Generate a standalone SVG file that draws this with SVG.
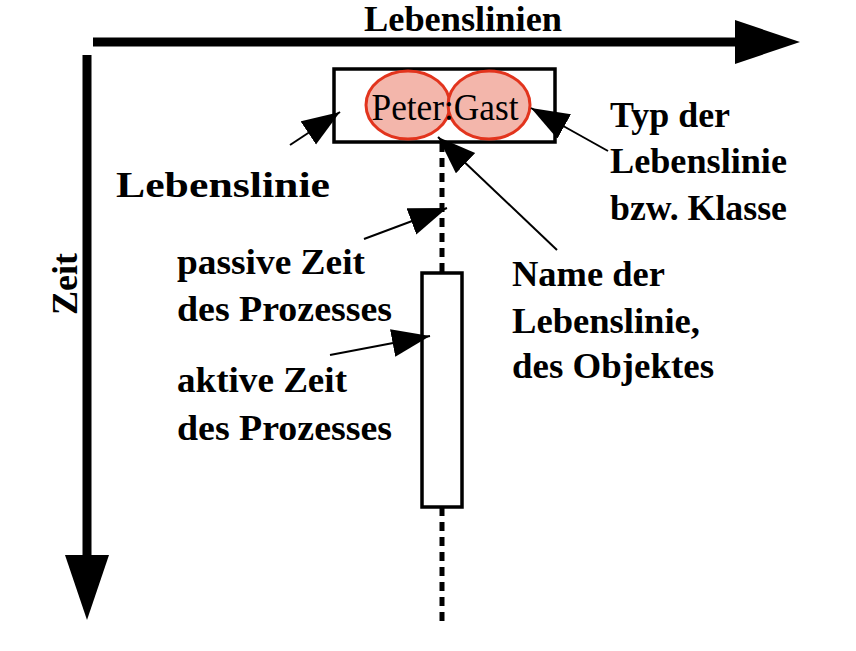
<svg xmlns="http://www.w3.org/2000/svg" width="856" height="651" viewBox="0 0 856 651">
<style>
.lbl{font-family:"Liberation Serif","Times New Roman",serif;font-weight:bold;font-size:35px;fill:#000}
.axis{stroke:#000;stroke-width:9;fill:none}
.ptr{stroke:#000;stroke-width:2;fill:none}
.life{stroke:#000;stroke-width:5;stroke-dasharray:9 6;fill:none}
.box{fill:#fff;stroke:#000;stroke-width:3.5}
.role{fill:#f3b6ab;stroke:#e2341d;stroke-width:3}
</style>
<defs>
<marker id="ah" markerUnits="userSpaceOnUse" markerWidth="40" markerHeight="30" refX="38" refY="14" orient="auto">
<path d="M0,0 L38,14 L0,28 z" fill="#000"/>
</marker>
</defs>
<rect width="856" height="651" fill="#fff"/>
<g id="axes">
<line class="axis" x1="93" y1="42" x2="740" y2="42"/>
<polygon points="735,20 800,42 735,64" fill="#000"/>
<line class="axis" x1="87" y1="55" x2="87" y2="560"/>
<polygon points="65,555 87,620 109,555" fill="#000"/>
<text class="lbl" x="463" y="31" font-size="34" text-anchor="middle" textLength="198" lengthAdjust="spacingAndGlyphs">Lebenslinien</text>
<text class="lbl" transform="translate(77,284) rotate(-90)" x="0" y="0" font-size="34" text-anchor="middle" textLength="62" lengthAdjust="spacingAndGlyphs">Zeit</text>
</g>
<g id="lifeline">
<line class="life" x1="442" y1="143" x2="442" y2="273"/>
<line class="life" x1="442" y1="507" x2="442" y2="626"/>
</g>
<g id="head">
<rect class="box" x="334" y="69" width="221" height="73"/>
<ellipse class="role" cx="408" cy="105" rx="42" ry="34"/>
<ellipse class="role" cx="489" cy="105" rx="41" ry="34"/>
<text x="445" y="120" text-anchor="middle" font-family="Liberation Serif, Times New Roman, serif" font-size="37" fill="#000" textLength="147" lengthAdjust="spacingAndGlyphs">Peter:Gast</text>
</g>
<g id="activation">
<rect class="box" x="422" y="273" width="40" height="234"/>
</g>
<g id="connectors">
<line class="ptr" x1="290" y1="145" x2="340" y2="112" marker-end="url(#ah)"/>
<line class="ptr" x1="364" y1="239" x2="447" y2="208" marker-end="url(#ah)"/>
<line class="ptr" x1="330" y1="355" x2="430" y2="336" marker-end="url(#ah)"/>
<line class="ptr" x1="557" y1="250" x2="438" y2="137" marker-end="url(#ah)"/>
<line class="ptr" x1="608" y1="151" x2="531" y2="108" marker-end="url(#ah)"/>
</g>
<g id="labels">
<text class="lbl" x="116" y="197" font-size="40" textLength="214" lengthAdjust="spacingAndGlyphs">Lebenslinie</text>
<text class="lbl" x="177" y="274" textLength="188" lengthAdjust="spacingAndGlyphs">passive Zeit</text>
<text class="lbl" x="177" y="321" textLength="215" lengthAdjust="spacingAndGlyphs">des Prozesses</text>
<text class="lbl" x="177" y="392" textLength="170" lengthAdjust="spacingAndGlyphs">aktive Zeit</text>
<text class="lbl" x="177" y="440" textLength="215" lengthAdjust="spacingAndGlyphs">des Prozesses</text>
<text class="lbl" x="610" y="127" textLength="120" lengthAdjust="spacingAndGlyphs">Typ der</text>
<text class="lbl" x="610" y="173" textLength="177" lengthAdjust="spacingAndGlyphs">Lebenslinie</text>
<text class="lbl" x="610" y="220" textLength="177" lengthAdjust="spacingAndGlyphs">bzw. Klasse</text>
<text class="lbl" x="512" y="286" textLength="153" lengthAdjust="spacingAndGlyphs">Name der</text>
<text class="lbl" x="512" y="333" textLength="188" lengthAdjust="spacingAndGlyphs">Lebenslinie,</text>
<text class="lbl" x="512" y="378" textLength="202" lengthAdjust="spacingAndGlyphs">des Objektes</text>
</g>
</svg>
